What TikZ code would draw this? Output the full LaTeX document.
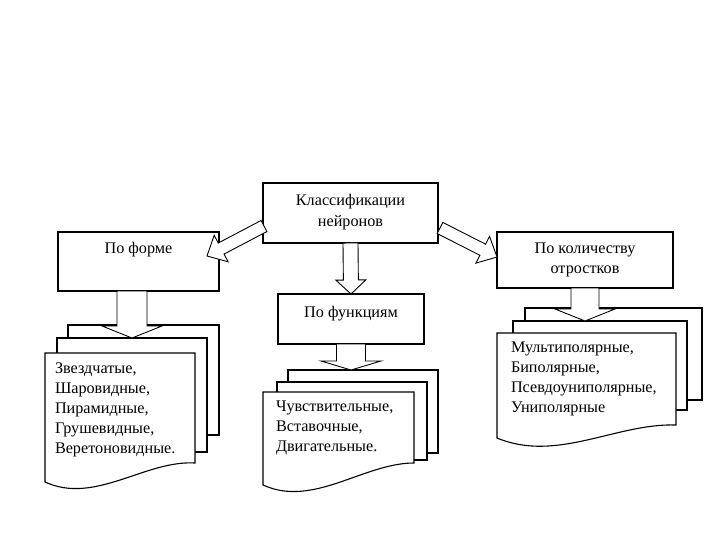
\documentclass[tikz,border=0pt]{standalone}
\usepackage{fontspec}
\setmainfont{Liberation Serif}
\usetikzlibrary{calc}
\pgfdeclarelayer{background}
\pgfdeclarelayer{paper}
\pgfsetlayers{paper,background,main}
\tikzset{
  box/.style={draw, line width=1.1pt, fill=white, inner sep=0pt, outer sep=0pt},
  sheet/.style={draw, line width=1.1pt, fill=white, inner sep=0pt, outer sep=0pt, anchor=north west},
  sheetline/.style={draw, line width=1.1pt, fill=white},
  sheettext/.style={inner sep=0pt, outer sep=0pt, anchor=north west},
  barrow/.style={draw, line width=0.9pt, fill=white, line join=miter},
}
\newcommand\boxtext[4]{\parbox[c][#2pt][t]{#1pt}{\centering\rule{0pt}{#3pt}#4}}
\newcommand\sheettxt[4]{\parbox[c][#2pt][t]{#1pt}{\raggedright\leftskip=#3pt\relax #4\par}}
\newcommand\blockarrow[5]{%
  \coordinate (bah) at ($(#2)!#5!(#1)$);
  \path[barrow] ($(#1)!#3!90:(#2)$) -- ($(bah)!#3!90:(#2)$) -- ($(bah)!#4!90:(#2)$) -- (#2)
     -- ($(bah)!#4!-90:(#2)$) -- ($(bah)!#3!-90:(#2)$) -- ($(#1)!#3!-90:(#2)$) -- cycle;}
\newcommand\docoutline[4]{%
  \path[sheetline] (#1.north west) -- (#1.north east) -- ($(#1.south east)+(0,-#2)$)
    .. controls ($(#1.south west)!0.667!(#1.south east)+(0,-#4)$) and ($(#1.south west)!0.333!(#1.south east)+(0,#3)$) .. (#1.south west) -- cycle;}
\begin{document}
\begin{tikzpicture}[x=1pt, y=-1pt, font=\fontsize{16.2}{20.2}\selectfont]
\begin{pgfonlayer}{paper}
\fill[white] (0,0) rectangle (720,540);
\end{pgfonlayer}
\path[use as bounding box] (0,0) rectangle (720,540);

% category boxes
\node[box] (top) at (350.5,213) {\boxtext{175}{60}{23}{Классификации\\нейронов}};
\node[box] (forma) at (138.5,261.5) {\boxtext{161}{59}{22}{По форме}};
\node[box] (func) at (351,319) {\boxtext{146}{50}{23}{По функциям}};
\node[box] (kol) at (585,260) {\boxtext{176}{56}{21}{По количеству\\отростков}};

% front sheets (text)
\node[sheettext] (lf) at (45,353) {\sheettxt{150}{129}{10}{\rule{0pt}{20pt}Звездчатые,\\Шаровидные,\\Пирамидные,\\Грушевидные,\\Веретоновидные.}};
\node[sheettext] (mf) at (263,392) {\sheettxt{151}{93}{13}{\rule{0pt}{19pt}Чувствительные,\\Вставочные,\\Двигательные.}};
\node[sheettext] (rf) at (497,333) {\sheettxt{179}{105}{14}{\rule{0pt}{19pt}Мультиполярные,\\Биполярные,\\Псевдоуниполярные,\\Униполярные}};

\begin{pgfonlayer}{background}
  \node[sheet, minimum width=151pt, minimum height=110pt] (l3) at (68,325) {};
  \node[sheet, minimum width=150pt, minimum height=114pt] (l2) at (57,338) {};
  \docoutline{lf}{19}{23}{22}
  \node[sheet, minimum width=150pt, minimum height=83pt] (m3) at (288,370) {};
  \node[sheet, minimum width=150pt, minimum height=78pt] (m2) at (277,382) {};
  \docoutline{mf}{22}{23}{22}
  \node[sheet, minimum width=177pt, minimum height=92pt] (r3) at (525,308) {};
  \node[sheet, minimum width=174pt, minimum height=89pt] (r2) at (513,321) {};
  \docoutline{rf}{13}{25}{15}
\end{pgfonlayer}

% block arrows
\blockarrow{top.south}{func.north}{7.5pt}{15pt}{14pt}
\coordinate (fa1) at ($(forma.south)+(-6.5,0)$);
\coordinate (fa2) at (fa1 |- l2.north);
\blockarrow{fa1}{fa2}{15pt}{30pt}{12pt}
\coordinate (ma2) at (func.south |- m3.north);
\blockarrow{func.south}{ma2}{14.5pt}{30pt}{9pt}
\coordinate (ka2) at (kol.south |- r2.north);
\blockarrow{kol.south}{ka2}{14pt}{30pt}{12pt}
\coordinate (dl1) at ($(top.west)+(1,13)$);
\coordinate (dl2) at ($(forma.north east)+(-12,24)$);
\blockarrow{dl1}{dl2}{6.25pt}{15pt}{16pt}
\coordinate (dr1) at ($(top.east)+(2,15)$);
\coordinate (dr2) at ($(kol.north west)+(0,25)$);
\blockarrow{dr1}{dr2}{6.25pt}{15pt}{16pt}
\end{tikzpicture}
\end{document}
